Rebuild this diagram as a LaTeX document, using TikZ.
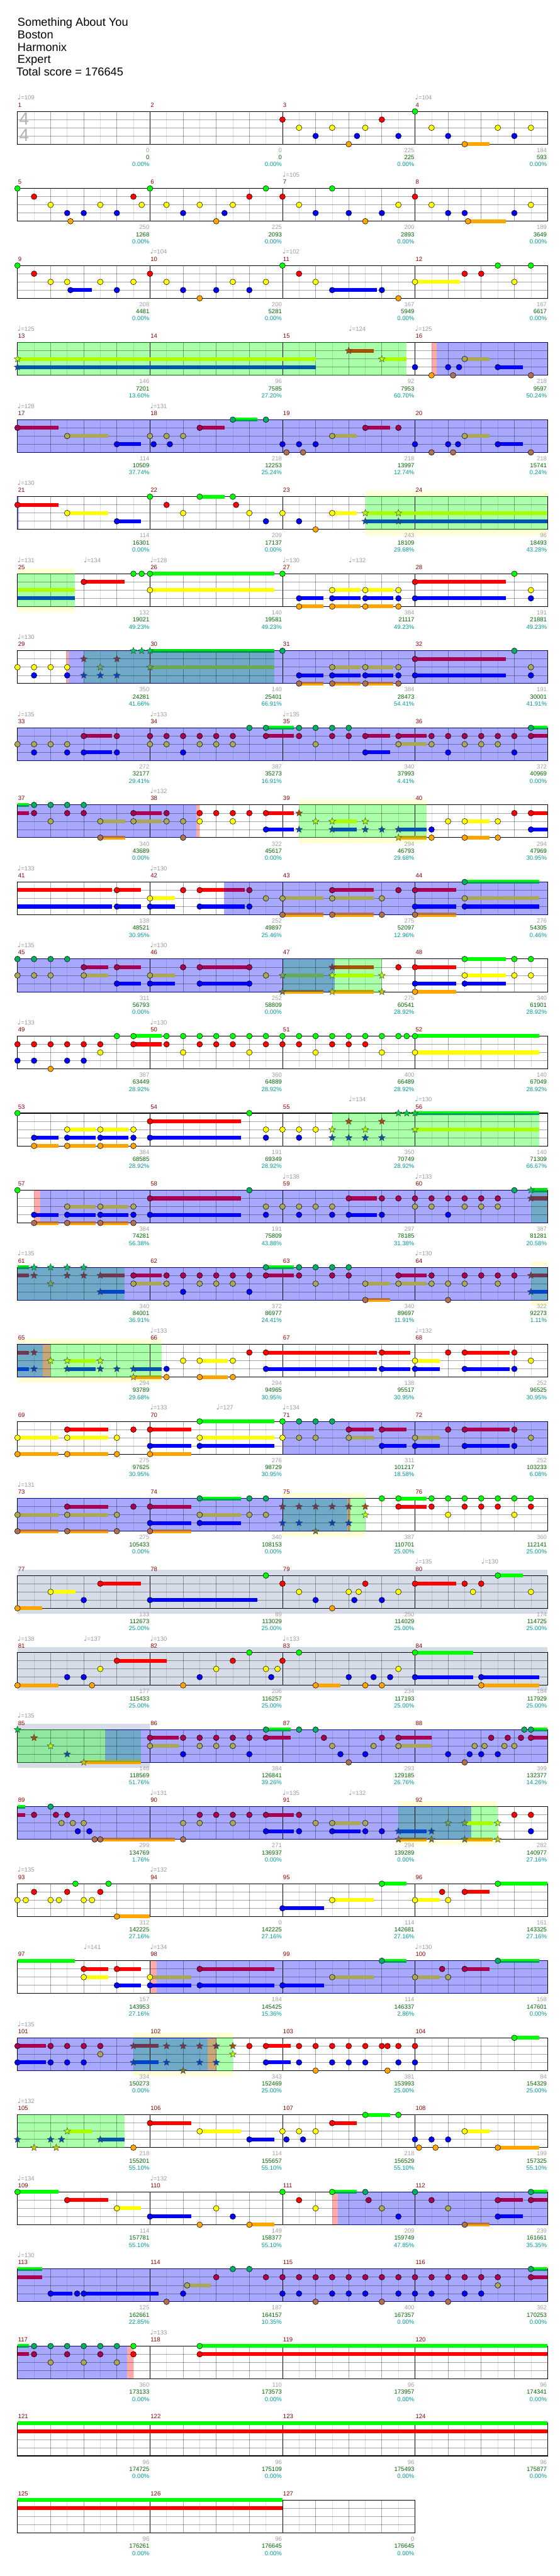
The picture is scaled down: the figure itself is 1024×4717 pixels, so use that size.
\documentclass[tikz,border=0pt]{standalone}
\usepackage{fontspec}
\setmainfont{Liberation Sans}
\newfontfamily\symfont{DejaVu Sans}
\usetikzlibrary{shapes.geometric}

%% gem fills: N normal, O overdrive, S star phrase, B star inside overdrive
\definecolor{cN0}{RGB}{0,255,0}\definecolor{cN1}{RGB}{255,0,0}\definecolor{cN2}{RGB}{255,255,0}
\definecolor{cN3}{RGB}{0,0,255}\definecolor{cN4}{RGB}{255,165,0}
\definecolor{cO0}{RGB}{0,176,96}\definecolor{cO1}{RGB}{168,0,80}\definecolor{cO2}{RGB}{170,168,88}
\definecolor{cO3}{RGB}{0,0,255}\definecolor{cO4}{RGB}{176,112,80}
\definecolor{cS0}{RGB}{0,210,60}\definecolor{cS1}{RGB}{168,80,0}\definecolor{cS2}{RGB}{170,255,0}
\definecolor{cS3}{RGB}{0,85,170}\definecolor{cS4}{RGB}{200,200,0}
\definecolor{cB0}{RGB}{0,200,90}\definecolor{cB1}{RGB}{112,56,80}\definecolor{cB2}{RGB}{106,168,90}
\definecolor{cB3}{RGB}{0,68,200}\definecolor{cB4}{RGB}{120,120,60}
%% sustain bars: t = upper half, b = lower half
\definecolor{tO0}{RGB}{0,255,0}\definecolor{bO0}{RGB}{0,160,96}
\definecolor{tO1}{RGB}{168,0,80}\definecolor{bO1}{RGB}{168,0,80}
\definecolor{tO2}{RGB}{170,168,88}\definecolor{bO2}{RGB}{170,168,88}
\definecolor{tO3}{RGB}{0,0,255}\definecolor{bO3}{RGB}{0,0,255}
\definecolor{tO4}{RGB}{176,112,80}\definecolor{bO4}{RGB}{255,165,0}
\definecolor{tS0}{RGB}{0,255,0}\definecolor{bS0}{RGB}{0,160,96}
\definecolor{tS1}{RGB}{168,80,0}\definecolor{bS1}{RGB}{168,80,0}
\definecolor{tS2}{RGB}{170,255,0}\definecolor{bS2}{RGB}{170,255,0}
\definecolor{tS3}{RGB}{0,85,170}\definecolor{bS3}{RGB}{0,85,170}
\definecolor{tS4}{RGB}{170,170,0}\definecolor{bS4}{RGB}{255,165,0}
\definecolor{tB0}{RGB}{0,230,0}\definecolor{bB0}{RGB}{0,150,100}
\definecolor{tB1}{RGB}{112,56,80}\definecolor{bB1}{RGB}{112,56,80}
\definecolor{tB2}{RGB}{106,168,90}\definecolor{bB2}{RGB}{106,168,90}
\definecolor{tB3}{RGB}{0,68,200}\definecolor{bB3}{RGB}{0,68,200}
\definecolor{tB4}{RGB}{110,110,60}\definecolor{bB4}{RGB}{255,165,0}
%% regions and text
\definecolor{odfill}{RGB}{168,168,255}
\definecolor{spfill}{RGB}{170,255,170}
\definecolor{sp2fill}{RGB}{144,232,160}
\definecolor{bothfill}{RGB}{112,170,200}
\definecolor{tanfill}{RGB}{200,168,120}
\definecolor{pkfill}{RGB}{255,170,170}
\definecolor{ylfill}{RGB}{255,255,214}
\definecolor{gyfill}{RGB}{214,220,232}
\definecolor{odline}{RGB}{0,0,128}
\definecolor{spline}{RGB}{0,100,0}
\definecolor{mnumcol}{RGB}{139,0,0}
\definecolor{sgray}{RGB}{160,160,160}
\definecolor{sgreen}{RGB}{0,100,0}
\definecolor{scyan}{RGB}{0,153,153}
\definecolor{tempocol}{RGB}{153,153,153}

\newcommand\labfont{\fontsize{11}{13}\selectfont}

%% gems:  \gN{lane}{beats}
\newcommand\gN[2]{\foreach \bt in {#2}{\filldraw[gem,fill=cN#1] (\bt,#1) circle[radius=5.2pt];}}
\newcommand\gO[2]{\foreach \bt in {#2}{\filldraw[gem,fill=cO#1] (\bt,#1) circle[radius=5.2pt];}}
\newcommand\gS[2]{\foreach \bt in {#2}{\node[starnote,fill=cS#1] at (\bt,#1) {};}}
\newcommand\gB[2]{\foreach \bt in {#2}{\node[starnote,fill=cB#1] at (\bt,#1) {};}}
%% sustains:  \sN{lane}{from}{to}
\newcommand\sN[3]{\fill[cN#1] (#2,#1-0.233) rectangle (#3,#1+0.233);}
\newcommand\sus[4]{\fill[t#1#2] (#3,#2-0.233) rectangle (#4,#2);
  \fill[b#1#2] (#3,#2) rectangle (#4,#2+0.233);}
\newcommand\sO[3]{\sus{O}{#1}{#2}{#3}}
\newcommand\sS[3]{\sus{S}{#1}{#2}{#3}}
\newcommand\sB[3]{\sus{B}{#1}{#2}{#3}}
%% shaded regions
\newcommand\rg[3]{\fill[#1] (#2,0) rectangle (#3,4);}
\newcommand\bd[3]{\fill[#1] (#2,-0.667) rectangle (#3,4.667);}
\newcommand\rgedge[3]{\draw[#1] (#2,0) -- (#3,0) (#2,4) -- (#3,4);}
\newcommand\tempo[2]{\node[tempo] at (#1,-1.4)
  {{\symfont\fontsize{13}{13}\selectfont\char"2669}=#2};}
%% staff: \staff{measures}{first measure}{gray/green/pct, ...}
\newcommand\staff[3]{%
  \pgfmathtruncatemacro\nbeat{4*#1}%
  \pgfmathsetmacro\lasthalf{\nbeat-0.5}%
  \foreach \e in {0.5,1.5,...,\lasthalf} \draw[grid8] (\e,0) -- (\e,4);
  \foreach \q in {1,...,\nbeat} \draw[gridq] (\q,0) -- (\q,4);
  \foreach \lane in {1,2,3} \draw[gridq] (0,\lane) -- (\nbeat,\lane);
  \foreach \q in {1,...,#1} \draw[barline] (4*\q,0) -- (4*\q,4);
  \draw[frame] (0,0) rectangle (\nbeat,4);
  \foreach \lgr/\lsc/\lpc [count=\i from 0] in {#3}{
    \pgfmathtruncatemacro\mm{#2+\i}
    \node[mnum] (mn\mm) at (4*\i,-0.533) {\mm};
    \node[scg] (sg\mm) at (4*\i+4,5) {\lgr};
    \node[scn] (sn\mm) at (4*\i+4,5.867) {\lsc};
    \node[scp] (sp\mm) at (4*\i+4,6.733) {\lpc};
  }%
}

\begin{document}
\begin{tikzpicture}[x=1pt,y=-1pt,
  every node/.style={inner sep=0pt},
  rowat/.style={shift={(32,{204+141.1*#1})},x=60.625pt,y=-15pt},
  gem/.style={draw=black,line width=0.6pt},
  starnote/.style={shape=star,star points=5,star point ratio=2.3,
    minimum size=13pt,draw=black!75,line width=0.5pt},
  grid8/.style={black,opacity=0.12,line width=0.6pt},
  gridq/.style={black,opacity=0.35,line width=0.9pt},
  barline/.style={black,line width=0.8pt},
  frame/.style={black,line width=1.2pt},
  odreg/.style={odfill}, spreg/.style={spfill}, spreg2/.style={sp2fill},
  bothreg/.style={bothfill}, tanreg/.style={tanfill}, pkreg/.style={pkfill},
  ylband/.style={ylfill}, gyband/.style={gyfill},
  odedge/.style={odline,line width=1.2pt}, spedge/.style={spline,line width=1.2pt},
  title/.style={anchor=base west,font=\fontsize{21}{25}\selectfont},
  mnum/.style={anchor=base west,xshift=1pt,text=mnumcol,font=\labfont},
  scg/.style={anchor=base east,xshift=-1pt,text=sgray,font=\labfont},
  scn/.style={anchor=base east,xshift=-1pt,text=sgreen,font=\labfont},
  scp/.style={anchor=base east,xshift=-1pt,text=scyan,font=\labfont},
  tempo/.style={anchor=base west,text=tempocol,font=\labfont},
  tsig/.style={text=black!30,font=\fontsize{32}{32}\selectfont},
]
\fill[white] (0,0) rectangle (1024,4717);
\useasboundingbox (0,0) rectangle (1024,4717);

%% song header
\node[title] (song)   at (32,48)  {Something About You};
\node[title] (artist) at (32,71)  {Boston};
\node[title] (author) at (32,94)  {Harmonix};
\node[title] (level)  at (32,116) {Expert};
\node[title] (total)  at (30,139) {Total score = 176645};

%%── measures 1-4 ─────────────────────────────────────────────
\begin{scope}[rowat=0]
\tempo{0}{109}\tempo{12}{104}
\staff{4}{1}{0/0/0.00\%,0/0/0.00\%,225/225/0.00\%,184/593/0.00\%}
\node[tsig] (tsa) at (0.2,0.9) {4};
\node[tsig] (tsb) at (0.2,2.9) {4};
\sN{4}{13.5}{14.25}
\gN{0}{12}\gN{1}{8,11}\gN{2}{8.5,9.5,10.5,12.5,14.5,15.5}
\gN{3}{9,10.25,11.5,13,15}\gN{4}{10,13.5}
\end{scope}

%%── measures 5-8 ─────────────────────────────────────────────
\begin{scope}[rowat=1]
\tempo{8}{105}
\staff{4}{5}{250/1268/0.00\%,225/2093/0.00\%,200/2893/0.00\%,189/3649/0.00\%}
\sN{4}{13.6}{14.75}
\gN{0}{0,4,7.5,9.5}\gN{1}{0.5,3.5,7,8,12}
\gN{2}{1,2.5,3.75,4.5,5.5,6.5,8.5,11.5,12.5,15.5}
\gN{3}{1.5,2,3,5,6.25,9,10,11,13,13.5,15}\gN{4}{1.6,6,10.5,13.6}
\end{scope}

%%── measures 9-12 ────────────────────────────────────────────
\begin{scope}[rowat=2]
\tempo{4}{104}\tempo{8}{102}
\staff{4}{9}{208/4481/0.00\%,200/5281/0.00\%,167/5949/0.00\%,167/6617/0.00\%}
\sN{3}{1.6}{2.25}\sN{3}{9.5}{10.85}\sN{2}{12}{13.35}
\gN{0}{0,8,14.5,15.5}\gN{1}{0.5,4,8.5,13.5,14}
\gN{2}{1,1.5,2.5,3.5,4.5,6.5,7.5,9,12,15}
\gN{3}{1.6,3,5,6,7,9.5,11}\gN{4}{5.5,11.5}
\end{scope}

%%── measures 13-16 ───────────────────────────────────────────
\begin{scope}[rowat=3]
\tempo{0}{125}\tempo{10}{124}\tempo{12}{125}
\rg{spreg}{0}{11.74}\rg{pkreg}{12.5}{12.65}\rg{odreg}{12.65}{16}
\staff{4}{13}{146/7201/13.60\%,96/7585/27.20\%,92/7953/60.70\%,218/9597/50.24\%}
\rgedge{spedge}{0}{11.74}\rgedge{odedge}{12.65}{16}
\sS{2}{0}{9}\sS{3}{0}{9}\sS{1}{10}{10.75}\sS{2}{11}{11.74}
\sO{2}{13.5}{14.25}\sO{3}{14.5}{15.25}
\gS{2}{0,11}\gS{3}{0}\gS{1}{10}
\gN{3}{12}\gN{4}{12.5}
\gO{2}{13.5}\gO{3}{13,13.33,14.5}\gO{4}{13.15,15.5}
\end{scope}

%%── measures 17-20 ───────────────────────────────────────────
\begin{scope}[rowat=4]
\tempo{0}{128}\tempo{4}{131}
\rg{odreg}{0}{16}
\staff{4}{17}{114/10509/37.74\%,218/12253/25.24\%,218/13997/12.74\%,218/15741/0.24\%}
\rgedge{odedge}{0}{16}
\sO{1}{0}{1.23}\sO{2}{1.5}{2.73}\sO{3}{3}{3.73}\sO{1}{5.5}{6.25}\sO{0}{6.5}{7.25}
\sO{2}{9.5}{10.24}\sO{1}{10.5}{11.25}\sO{2}{13.5}{14.25}\sO{3}{14.5}{15.25}
\gO{0}{6.5,7.5}\gO{1}{0,5.5,10.5,11.5}\gO{2}{1.5,4,4.5,5,9.5,13.5}
\gO{3}{3,4.11,4.6,8,8.5,9,12,13,13.3,14.5}\gO{4}{8.12,8.62,12.5,13.15,15.5}
\end{scope}

%%── measures 21-24 ───────────────────────────────────────────
\begin{scope}[rowat=5]
\tempo{0}{130}
\bd{ylband}{10.5}{16}
\rg{odreg}{0}{0.05}\rg{spreg}{10.5}{16}
\staff{4}{21}{114/16301/0.00\%,209/17137/0.00\%,243/18109/29.68\%,96/18493/43.28\%}
\rgedge{spedge}{10.5}{16}
\sN{1}{0}{1.23}\sN{2}{1.5}{2.73}\sN{3}{3}{3.73}\sN{0}{5.5}{6.25}\sN{2}{9.5}{10.24}
\sS{2}{10.5}{16}\sS{3}{10.5}{16}
\gN{0}{4,5.5,6.5}\gN{1}{0,4.5,6.6}\gN{2}{1.5,5,7,8,9.5}\gN{3}{3,7.5,8.5}\gN{4}{9}
\gS{2}{10.5,11.5}\gS{3}{10.5,11.5}
\end{scope}

%%── measures 25-28 ───────────────────────────────────────────
\begin{scope}[rowat=6]
\tempo{0}{131}\tempo{2}{134}\tempo{4}{128}\tempo{8}{130}\tempo{10}{132}
\bd{ylband}{0}{1.74}
\rg{spreg}{0}{1.74}
\staff{4}{25}{132/19021/49.23\%,140/19581/49.23\%,384/21117/49.23\%,191/21881/49.23\%}
\rgedge{spedge}{0}{1.74}
\sS{2}{0}{1.74}\sS{3}{0}{1.74}
\sN{1}{2}{3.23}\sN{0}{4}{7.75}\sN{2}{4}{7.75}
\sN{3}{8.5}{9.24}\sN{4}{8.5}{9.24}\sN{2}{9.5}{10.35}\sN{3}{9.5}{10.35}\sN{4}{9.5}{10.35}
\sN{2}{10.5}{11.35}\sN{3}{10.5}{11.35}\sN{4}{10.5}{11.35}\sN{1}{12}{14.75}\sN{3}{12}{14.75}
\gN{0}{3.5,3.75,4,8,15}\gN{1}{2,12}\gN{2}{4,9.5,10.5,11.5,15.5}
\gN{3}{8.5,9.5,10.5,11.5,12,15.5}\gN{4}{8.5,9.5,10.5,11.5}
\end{scope}

%%── measures 29-32 ───────────────────────────────────────────
\begin{scope}[rowat=7]
\tempo{0}{130}
\rg{pkreg}{1.47}{1.55}\rg{odreg}{1.55}{16}\rg{bothreg}{2}{7.75}
\staff{4}{29}{350/24281/41.66\%,140/25401/66.91\%,384/28473/54.41\%,191/30001/41.91\%}
\rgedge{odedge}{1.55}{16}
\sB{0}{4}{7.75}\sB{2}{4}{7.75}
\sO{3}{8.5}{9.24}\sO{4}{8.5}{9.24}\sO{2}{9.5}{10.35}\sO{3}{9.5}{10.35}\sO{4}{9.5}{10.35}
\sO{2}{10.5}{11.35}\sO{3}{10.5}{11.35}\sO{4}{10.5}{11.35}\sO{1}{12}{14.75}\sO{3}{12}{14.75}
\gN{2}{0,0.5,1,1.5}\gN{3}{0.5}\gO{3}{1.5}
\gB{1}{2,3}\gB{2}{2.5,4}\gB{3}{2,2.5,3}\gB{0}{3.5,3.75,4}
\gO{0}{8,15}\gO{1}{12}\gO{2}{9.5,10.5,11.5,15.5}
\gO{3}{8.5,9.5,10.5,11.5,12,15.5}\gO{4}{8.5,9.5,10.5,11.5}
\end{scope}

%%── measures 33-36 ───────────────────────────────────────────
\begin{scope}[rowat=8]
\tempo{0}{135}\tempo{4}{133}\tempo{8}{135}
\rg{odreg}{0}{16}
\staff{4}{33}{272/32177/29.41\%,387/35273/16.91\%,340/37993/4.41\%,372/40969/0.00\%}
\rgedge{odedge}{0}{16}
\sO{1}{2}{2.86}\sO{3}{2}{2.86}\sO{0}{7.5}{8.35}\sO{1}{7.5}{8.35}\sO{1}{10.5}{11.25}
\sO{3}{10.5}{11.25}\sO{1}{11.5}{12.35}\sO{2}{11.5}{12.35}\sO{0}{15.5}{16}\sO{1}{15.5}{16}
\gO{0}{7,7.5,8.5,9,9.5,10,15.5}
\gO{1}{2,3,4,4.5,5,5.5,6,6.5,7.5,8.5,9.5,10,10.5,11.5,12.5,13,13.5,14,14.5,15,15.5}
\gO{2}{0,0.5,1,1.5,4,4.5,5.5,6,6.5,9,11.5,12.5,13.5,14,14.5}
\gO{3}{0.5,1.5,2,3,5,10.5,13,15}
\end{scope}

%%── measures 37-40 ───────────────────────────────────────────
\begin{scope}[rowat=9]
\tempo{4}{132}
\bd{ylband}{8.5}{12.35}
\rg{odreg}{0}{5.39}\rg{pkreg}{5.39}{5.5}\rg{spreg}{8.5}{12.35}
\staff{4}{37}{340/43689/0.00\%,322/45617/0.00\%,294/46793/29.68\%,294/47969/30.95\%}
\rgedge{odedge}{0}{5.39}\rgedge{spedge}{8.5}{12.35}
\sO{0}{0}{0.35}\sO{1}{0}{0.35}\sO{2}{2.5}{3.25}\sO{4}{2.5}{3.25}\sO{1}{3.5}{4.35}\sO{2}{3.5}{4.35}
\sN{1}{7.5}{8.35}\sN{3}{7.5}{8.35}
\sS{2}{9.5}{10.24}\sS{3}{9.5}{10.24}\sS{3}{11.5}{12.35}\sS{4}{11.5}{12.35}
\sN{2}{13.5}{14.25}\sN{4}{13.5}{14.25}\sN{1}{15.5}{16}\sN{3}{15.5}{16}
\gO{0}{0.5,1,1.5,2}\gO{1}{0.5,1.5,2,3.5,4.5}\gO{2}{1,2.5,3.5,4.5,5}\gO{4}{2.5,5}
\gN{1}{5.5,6,6.5,7,7.5,15,15.5}\gN{2}{5.5,6.5,13,13.5,14.5}
\gN{3}{7.5,12.5,15.5}\gN{4}{12.5,13.5,14.5}
\gS{1}{8.5}\gS{2}{9,9.5,10.5}\gS{3}{8.5,9.5,10.5,11,11.5}\gS{4}{11.5}
\end{scope}

%%── measures 41-44 ───────────────────────────────────────────
\begin{scope}[rowat=10]
\tempo{0}{133}\tempo{4}{130}
\rg{odreg}{6.23}{16}
\staff{4}{41}{138/48521/30.95\%,252/49897/25.46\%,275/52097/12.96\%,276/54305/0.46\%}
\rgedge{odedge}{6.23}{16}
\sN{1}{0}{2.86}\sN{3}{0}{2.86}\sN{1}{3}{3.73}\sN{3}{3}{3.73}\sN{2}{4}{4.75}\sN{3}{4}{4.75}
\sN{1}{5.5}{6.23}\sO{1}{6.23}{6.86}\sN{3}{5.5}{6.86}
\sO{2}{8}{9.24}\sO{4}{8}{9.24}\sO{1}{9.5}{10.75}\sO{2}{9.5}{10.75}\sO{4}{9.5}{10.75}
\sO{1}{12}{13.24}\sO{3}{12}{13.24}\sO{4}{12}{13.24}
\sO{0}{13.5}{15.75}\sO{2}{13.5}{15.75}\sO{3}{13.5}{15.75}
\gN{1}{3,5,5.5}\gN{2}{4}\gN{3}{3,4,5.5}
\gO{0}{13.5}\gO{1}{7,9.5,11.5,12}\gO{2}{7.5,8,9.5,11,13.5}\gO{3}{7,12,13.5}\gO{4}{8,9.5,11,12}
\end{scope}

%%── measures 45-48 ───────────────────────────────────────────
\begin{scope}[rowat=11]
\tempo{0}{135}\tempo{4}{130}
\rg{odreg}{0}{8}\rg{bothreg}{8}{9.57}\rg{spreg}{9.57}{11}
\staff{4}{45}{311/56793/0.00\%,252/58809/0.00\%,275/60541/28.92\%,340/61901/28.92\%}
\rgedge{odedge}{0}{9.57}\rgedge{spedge}{9.57}{11}
\sO{1}{2}{2.73}\sO{2}{2}{2.73}\sO{1}{3}{3.73}\sO{3}{3}{3.73}\sO{2}{4}{4.75}\sO{3}{4}{4.75}
\sO{1}{5.5}{7}\sO{3}{5.5}{7}
\sB{2}{8}{9.24}\sB{4}{8}{9.24}\sS{1}{9.5}{10.75}\sS{2}{9.5}{10.75}\sS{4}{9.5}{10.75}
\sN{1}{12}{13.24}\sN{3}{12}{13.24}\sN{4}{12}{13.24}
\sN{0}{13.5}{14.75}\sN{2}{13.5}{14.75}\sN{3}{13.5}{14.75}
\gO{0}{0,0.5,1,1.5}\gO{1}{2,3,5,5.5,7}\gO{2}{0,0.5,1,2,4,7.5}\gO{3}{3,4,5.5,7}
\gB{2}{8}\gB{4}{8}\gB{1}{9.5}\gS{2}{9.5,11}\gS{4}{9.5,11}
\gN{0}{13.5,15,15.5}\gN{1}{11.5,12}\gN{2}{13.5,15,15.5}\gN{3}{12,13.5}\gN{4}{12}
\end{scope}

%%── measures 49-52 ───────────────────────────────────────────
\begin{scope}[rowat=12]
\tempo{0}{133}\tempo{4}{130}
\staff{4}{49}{387/63449/28.92\%,360/64889/28.92\%,400/66489/28.92\%,140/67049/28.92\%}
\sN{0}{3.5}{4.35}\sN{1}{3.5}{4.35}\sN{0}{12}{15.75}\sN{2}{12}{15.75}
\gN{0}{3,3.5,4.5,5,5.5,6,6.5,7,7.5,8,8.5,9,9.5,10,10.5,11,11.5,11.75,12}
\gN{1}{0,0.5,1,1.5,2,2.5,3.5,4.5,5.5,6,6.5,7.5,8,8.5,9.5,10,10.5}
\gN{2}{2.5,5,7,9,11,12}\gN{3}{0,0.5,1.5,2}\gN{4}{1}
\end{scope}

%%── measures 53-56 ───────────────────────────────────────────
\begin{scope}[rowat=13]
\tempo{10}{134}\tempo{12}{130}
\rg{spreg}{9.5}{15.75}
\staff{4}{53}{384/68585/28.92\%,191/69349/28.92\%,350/70749/28.92\%,140/71309/66.67\%}
\rgedge{spedge}{9.5}{15.75}
\sN{3}{0.5}{1.23}\sN{4}{0.5}{1.23}\sN{2}{1.5}{2.35}\sN{3}{1.5}{2.35}\sN{4}{1.5}{2.35}
\sN{2}{2.5}{3.35}\sN{3}{2.5}{3.35}\sN{4}{2.5}{3.35}\sN{1}{4}{6.75}\sN{3}{4}{6.75}
\sS{0}{12}{15.75}\sS{2}{12}{15.75}
\gN{0}{0,7}\gN{1}{4}\gN{2}{1.5,2.5,3.5,7.5,8,8.5,9}\gN{3}{0.5,1.5,2.5,3.5,4,7.5,8.5}
\gN{4}{0.5,1.5,2.5,3.5}
\gS{0}{11.5,11.75,12}\gS{1}{10,11}\gS{2}{9.5,10.5,12}\gS{3}{9.5,10,10.5,11}
\end{scope}

%%── measures 57-60 ───────────────────────────────────────────
\begin{scope}[rowat=14]
\tempo{8}{138}\tempo{12}{133}
\rg{pkreg}{0.5}{0.68}\rg{odreg}{0.68}{15.5}\rg{bothreg}{15.5}{16}
\staff{4}{57}{384/74281/56.38\%,191/75809/43.88\%,297/78185/31.38\%,387/81281/20.58\%}
\rgedge{odedge}{0.68}{16}
\sO{3}{0.5}{1.23}\sO{4}{0.5}{1.23}\sO{2}{1.5}{2.35}\sO{3}{1.5}{2.35}\sO{4}{1.5}{2.35}
\sO{2}{2.5}{3.35}\sO{3}{2.5}{3.35}\sO{4}{2.5}{3.35}\sO{1}{4}{6.75}\sO{3}{4}{6.75}
\sO{1}{10}{10.85}\sO{3}{10}{10.85}\sB{0}{15.5}{16}\sB{1}{15.5}{16}
\gN{0}{0}
\gO{0}{7,15}\gO{1}{4,10,11,11.5,12,12.5,13,13.5,14,14.5}
\gO{2}{1.5,2.5,3.5,7.5,8,8.5,9,9.5,12,12.5,13.5,14,14.5}
\gO{3}{0.5,1.5,2.5,3.5,4,7.5,8.5,9.5,10,11,13}\gO{4}{0.5,1.5,2.5,3.5}
\gB{0}{15.5}\gB{1}{15.5}
\end{scope}

%%── measures 61-64 ───────────────────────────────────────────
\begin{scope}[rowat=15]
\tempo{0}{135}\tempo{12}{130}
\bd{ylband}{15.5}{16}
\rg{bothreg}{0}{3.23}\rg{odreg}{3.23}{15.5}\rg{bothreg}{15.5}{16}
\staff{4}{61}{340/84001/36.91\%,372/86977/24.41\%,340/89697/11.91\%,322/92273/1.11\%}
\rgedge{odedge}{0}{16}
\sB{0}{0}{0.35}\sB{1}{0}{0.35}\sB{1}{2.5}{3.23}\sB{3}{2.5}{3.23}
\sO{1}{3.5}{4.35}\sO{2}{3.5}{4.35}\sO{0}{7.5}{8.35}\sO{1}{7.5}{8.35}
\sO{2}{10.5}{11.25}\sO{4}{10.5}{11.25}\sO{1}{11.5}{12.35}\sO{2}{11.5}{12.35}
\sB{1}{15.5}{16}\sB{3}{15.5}{16}
\gB{0}{0.5,1,1.5,2}\gB{1}{0.5,1.5,2,2.5}\gB{2}{1}\gB{3}{2.5}
\gO{0}{7.5,8.5,9,9.5,10}
\gO{1}{3.5,4.5,5,5.5,6,6.5,7,7.5,8.5,9.5,10,11.5,12.5,13.5,14,14.5,15}
\gO{2}{3.5,4.5,5.5,6,6.5,9,10.5,11.5,12.5,13,13.5,14.5}\gO{3}{5,7}\gO{4}{10.5,13}
\gB{1}{15.5}\gB{3}{15.5}
\end{scope}

%%── measures 65-68 ───────────────────────────────────────────
\begin{scope}[rowat=16]
\tempo{4}{133}\tempo{12}{132}
\bd{ylband}{0}{4.36}
\rg{bothreg}{0}{0.76}\rg{tanreg}{0.76}{1}\rg{spreg}{1}{4.36}
\staff{4}{65}{294/93789/29.68\%,294/94965/30.95\%,138/95517/30.95\%,252/96525/30.95\%}
\rgedge{odedge}{0}{1}\rgedge{spedge}{1}{4.36}
\sB{1}{0}{0.35}\sB{3}{0}{0.35}\sS{2}{1.5}{2.35}\sS{3}{1.5}{2.35}\sS{3}{3.5}{4.36}\sS{4}{3.5}{4.36}
\sN{2}{5.5}{6.35}\sN{4}{5.5}{6.35}\sN{1}{7.5}{10.85}\sN{3}{7.5}{10.85}\sN{1}{11}{11.85}
\sN{3}{11}{11.85}\sN{2}{12}{12.75}\sN{3}{12}{12.75}\sN{1}{13.5}{14.85}\sN{3}{13.5}{14.85}
\gB{1}{0.5}\gB{3}{0.5}\gS{2}{1,1.5,2.5}\gS{3}{1.5,2.5,3,3.5}\gS{4}{3.5}
\gN{1}{7,7.5,11,13,13.5,15}\gN{2}{5,5.5,6.5,12,15.5}\gN{3}{4.5,7.5,11,12,13.5,15}
\gN{4}{4.5,5.5,6.5}
\end{scope}

%%── measures 69-72 ───────────────────────────────────────────
\begin{scope}[rowat=17]
\tempo{4}{133}\tempo{6}{127}\tempo{8}{134}
\rg{odreg}{8}{16}
\staff{4}{69}{275/97625/30.95\%,276/98729/30.95\%,311/101217/18.58\%,252/103233/6.08\%}
\rgedge{odedge}{8}{16}
\sN{2}{0}{1.23}\sN{4}{0}{1.23}\sN{1}{1.5}{2.73}\sN{2}{1.5}{2.73}\sN{4}{1.5}{2.73}
\sN{1}{4}{5.25}\sN{3}{4}{5.25}\sN{4}{4}{5.25}\sN{0}{5.5}{7.75}\sN{2}{5.5}{7.75}\sN{3}{5.5}{7.75}
\sO{1}{10}{10.75}\sO{2}{10}{10.75}\sO{1}{11}{11.75}\sO{3}{11}{11.75}\sO{2}{12}{12.75}
\sO{3}{12}{12.75}\sO{1}{13.5}{14.85}\sO{3}{13.5}{14.85}
\gN{0}{5.5,8}\gN{1}{1.5,3.5,4}\gN{2}{0,1.5,3,5.5,8}\gN{3}{4,5.5}\gN{4}{0,1.5,3,4}
\gO{0}{8.5,9,9.5}\gO{1}{10,11,13,13.5,15}\gO{2}{8.5,9,10,12,15.5}\gO{3}{11,12,13.5,15}
\end{scope}

%%── measures 73-76 ───────────────────────────────────────────
\begin{scope}[rowat=18]
\tempo{0}{131}
\bd{ylband}{8}{10.5}
\rg{odreg}{0}{8}\rg{bothreg}{8}{9.96}\rg{tanreg}{9.96}{10.05}\rg{spreg}{10.05}{10.5}
\staff{4}{73}{275/105433/0.00\%,340/108153/0.00\%,387/110701/25.00\%,360/112141/25.00\%}
\rgedge{odedge}{0}{10.05}\rgedge{spedge}{10.05}{10.5}
\sO{2}{0}{1.23}\sO{4}{0}{1.23}\sO{1}{1.5}{2.73}\sO{2}{1.5}{2.73}\sO{4}{1.5}{2.73}
\sO{1}{4}{5.25}\sO{3}{4}{5.25}\sO{4}{4}{5.25}\sO{0}{5.5}{6.75}\sO{2}{5.5}{6.75}\sO{3}{5.5}{6.75}
\sN{0}{11.5}{12.35}\sN{1}{11.5}{12.35}
\gO{0}{5.5,7,7.5}\gO{1}{1.5,3.5,4}\gO{2}{0,1.5,3,5.5,7,7.5}\gO{3}{4,5.5}\gO{4}{0,1.5,3,4}
\gB{1}{8,8.5,9,9.5,10}\gB{3}{8,8.5,9.5,10}\gB{4}{9}\gS{1}{10.5}\gS{2}{10.5}
\gN{0}{11,11.5,12.5,13,13.5,14,14.5,15,15.5}\gN{1}{11.5,12.5,13.5,14,14.5,15.5}\gN{2}{13,15}
\end{scope}

%%── measures 77-80 ───────────────────────────────────────────
\begin{scope}[rowat=19]
\tempo{12}{135}\tempo{14}{130}
\bd{gyband}{0}{16}
\staff{4}{77}{133/112673/25.00\%,89/113029/25.00\%,250/114029/25.00\%,174/114725/25.00\%}
\sN{4}{0}{0.75}\sN{2}{1}{1.75}\sN{1}{2.5}{3.73}\sN{3}{4}{7.25}\sN{1}{12}{13.24}\sN{0}{14.5}{15.25}
\gN{0}{7.5,14.5}\gN{1}{2.5,8,10.5,12,13.5,14}\gN{2}{1,8.5,10,10.3,11.5,13.75,15.5}
\gN{3}{2,4,9,10.17,11}\gN{4}{0,9.5}
\end{scope}

%%── measures 81-84 ───────────────────────────────────────────
\begin{scope}[rowat=20]
\tempo{0}{138}\tempo{2}{137}\tempo{4}{130}\tempo{8}{133}
\bd{gyband}{0}{16}
\staff{4}{81}{177/115433/25.00\%,206/116257/25.00\%,234/117193/25.00\%,184/117929/25.00\%}
\sN{4}{0}{1.23}\sN{1}{3}{4.5}\sN{4}{9}{9.75}\sN{0}{12}{13.75}\sN{3}{12}{13.75}
\sN{3}{14}{15.75}\sN{4}{14}{15.75}
\gN{0}{7,8.5,12}\gN{1}{3,6.5,8}\gN{2}{2.5,6,7.5,7.85,11.5}
\gN{3}{1.5,2,5.5,7.66,10,10.75,11.25,12,14}\gN{4}{0,2.25,5,9,10.5,11,14}
\end{scope}

%%── measures 85-88 ───────────────────────────────────────────
\begin{scope}[rowat=21]
\tempo{0}{135}
\bd{gyband}{0}{4}
\rg{spreg2}{0}{2.65}\rg{bothreg}{2.65}{3.73}\rg{odreg}{3.73}{16}
\staff{4}{85}{146/118569/51.76\%,384/126841/39.26\%,293/129185/26.76\%,399/132377/14.26\%}
\rgedge{spedge}{0}{2.65}\rgedge{odedge}{2.65}{16}
\sS{4}{2}{3.73}
\sO{1}{4}{4.87}\sO{2}{4}{4.87}\sO{0}{7.5}{8.25}\sO{1}{7.5}{8.25}\sO{1}{11.5}{12.5}
\sO{2}{11.5}{12.5}\sO{0}{15.5}{16}\sO{1}{15.5}{16}
\gS{0}{0}\gS{1}{0.5}\gS{2}{1}\gS{3}{1.5}\gS{4}{2}
\gO{0}{7.5,8.5,9,15.3,15.5}
\gO{1}{4,5,5.5,6,6.5,7,7.5,9.25,11,11.5,14.3,14.8,15.2,15.5}
\gO{2}{4,5.5,6,6.5,9.5,10.75,11.5,13.8,14.1,14.7,15}
\gO{3}{5,7,9.75,10.5,13,13.65,14,14.5}\gO{4}{10,13.5}
\end{scope}

%%── measures 89-92 ───────────────────────────────────────────
\begin{scope}[rowat=22]
\tempo{4}{131}\tempo{8}{135}\tempo{10}{132}
\bd{ylband}{11.5}{14.5}
\rg{odreg}{0}{11.5}\rg{bothreg}{11.5}{13.7}\rg{spreg}{13.7}{14.5}
\staff{4}{89}{299/134769/1.76\%,271/136937/0.00\%,294/139289/0.00\%,282/140977/27.16\%}
\rgedge{odedge}{0}{13.7}\rgedge{spedge}{13.7}{14.5}
\sO{0}{0}{0.24}\sO{1}{0}{0.24}\sO{4}{2.5}{4.75}\sO{1}{7.5}{8.35}\sO{3}{7.5}{8.35}
\sO{2}{9.5}{10.35}\sO{3}{9.5}{10.35}
\sB{3}{11.5}{12.35}\sB{4}{11.5}{12.35}\sS{2}{13.5}{14.35}\sS{4}{13.5}{14.35}
\gO{0}{1}\gO{1}{0.5,1.16,1.5,5.5,6,6.5,7,7.5,8.5}\gO{2}{1.33,1.67,2,5,5.5,6.5,9,9.5,10.5}
\gO{3}{1.82,2.17,7.5,8.5,9.5,10.5,11}\gO{4}{2.33,2.5,5}
\gB{3}{11.5,12.5}\gB{4}{11.5,12.5}\gB{2}{13,13.5}\gB{4}{13.5}\gS{2}{14.5}\gS{4}{14.5}
\gN{1}{15,15.5}\gN{3}{15.5}
\end{scope}

%%── measures 93-96 ───────────────────────────────────────────
\begin{scope}[rowat=23]
\tempo{0}{135}\tempo{4}{132}
\staff{4}{93}{312/142225/27.16\%,0/142225/27.16\%,114/142681/27.16\%,161/143325/27.16\%}
\sN{4}{3}{4}\sN{3}{8}{9.25}\sN{2}{9.5}{10.75}\sN{0}{11}{11.75}\sN{2}{12}{12.75}
\sN{1}{13.5}{14.25}\sN{0}{14.5}{16}
\gN{0}{1.75,2.75,11,14.5}\gN{1}{0.5,1.5,2.5,12.82,13.5}
\gN{2}{0,0.25,1,1.25,2,2.25,9.5,12,13}\gN{3}{8}\gN{4}{3}
\end{scope}

%%── measures 97-100 ──────────────────────────────────────────
\begin{scope}[rowat=24]
\tempo{2}{141}\tempo{4}{134}\tempo{12}{130}
\rg{pkreg}{4}{4.2}\rg{odreg}{4.2}{16}
\staff{4}{97}{157/143953/27.16\%,184/145425/15.36\%,114/146337/2.86\%,158/147601/0.00\%}
\rgedge{odedge}{4.2}{16}
\sN{0}{0}{1.74}\sN{1}{2}{2.73}\sN{2}{2}{2.73}\sN{1}{3}{3.73}\sN{3}{3}{3.73}
\sO{2}{4}{5.25}\sO{3}{4}{5.25}\sO{1}{5.5}{7.75}\sO{3}{5.5}{7.75}\sO{3}{8}{9.25}
\sO{2}{9.5}{10.75}\sO{0}{11}{11.75}\sO{2}{12}{12.75}\sO{1}{13.5}{14.25}\sO{0}{14.5}{15.75}
\gN{1}{2,3}\gN{2}{2,4}\gN{3}{3,4}
\gO{0}{11,14.5}\gO{1}{5.5,12.82,13.5}\gO{2}{9.5,12,13}\gO{3}{5.5,8}
\end{scope}

%%── measures 101-104 ─────────────────────────────────────────
\begin{scope}[rowat=25]
\tempo{0}{135}
\bd{ylband}{3.5}{6.5}
\rg{odreg}{0}{3.5}\rg{bothreg}{3.5}{5.75}\rg{tanreg}{5.75}{6}\rg{spreg}{6}{6.5}
\staff{4}{101}{334/150273/0.00\%,343/152469/25.00\%,381/153993/25.00\%,84/154329/25.00\%}
\rgedge{odedge}{0}{6}\rgedge{spedge}{6}{6.5}
\sO{1}{0}{0.86}\sO{3}{0}{0.86}\sB{1}{3.5}{4.25}\sB{3}{3.5}{4.25}
\sN{1}{7.5}{8.25}\sN{3}{7.5}{8.25}\sN{0}{15}{15.75}
\gO{1}{0,1,1.5,2,2.5}\gO{2}{2.5}\gO{3}{0,1,1.5,2}
\gB{1}{3.5,4.5,5,5.5,6}\gB{3}{3.5,4.5,5.5,6}\gB{4}{5}\gS{1}{6.5}\gS{2}{6.5}
\gN{0}{15}\gN{1}{7,7.5,8.5,9,9.5,10,10.5,11,11.17,11.5,12}
\gN{3}{7.5,8.5,9.5,10,10.5,11.5,12}\gN{4}{9,11.17}
\end{scope}

%%── measures 105-108 ─────────────────────────────────────────
\begin{scope}[rowat=26]
\tempo{0}{132}
\rg{spreg}{0}{3.23}
\staff{4}{105}{218/155201/55.10\%,114/155657/55.10\%,218/156529/55.10\%,199/157325/55.10\%}
\rgedge{spedge}{0}{3.23}
\sS{2}{1.5}{2.25}\sS{3}{2.5}{3.23}
\sN{1}{4}{5.25}\sN{2}{5.5}{6.75}\sN{3}{7}{7.75}\sN{1}{9.5}{10.25}\sN{0}{10.5}{11.25}
\sN{2}{13.5}{14.25}\sN{4}{14.5}{15.75}
\gS{2}{1.5}\gS{3}{0,1,1.33,2.5}\gS{4}{0.5,1.17}
\gN{0}{10.5,11.5}\gN{1}{4,9.5}\gN{2}{5.5,8,8.5,9,13.5}\gN{3}{7,8.12,8.62,12,12.5,13}
\gN{4}{3.5,12.12,12.62,14.5}
\end{scope}

%%── measures 109-112 ─────────────────────────────────────────
\begin{scope}[rowat=27]
\tempo{0}{134}\tempo{4}{132}
\rg{pkreg}{9.5}{9.67}\rg{odreg}{9.67}{16}
\staff{4}{109}{114/157781/55.10\%,149/158377/55.10\%,209/159749/47.85\%,239/161661/35.35\%}
\rgedge{odedge}{9.67}{16}
\sN{0}{0}{1.23}\sN{1}{1.5}{2.73}\sN{2}{3}{3.73}\sN{3}{4}{5.25}\sN{4}{7}{7.75}
\sO{0}{9.5}{10.25}\sO{4}{13.5}{14.25}\sO{1}{14.5}{15.25}\sO{3}{14.5}{15.25}
\sO{0}{15.5}{16}\sO{1}{15.5}{16}
\gN{0}{0,8,9.5}\gN{1}{1.5,8.5}\gN{2}{3,6,9}\gN{3}{4,6.5}\gN{4}{5.5,7}
\gO{0}{10.5,12,15.5}\gO{1}{10.6,12.5,14.5,15.5}\gO{2}{11,13}\gO{3}{11.5,14.5}\gO{4}{13.5}
\end{scope}

%%── measures 113-116 ─────────────────────────────────────────
\begin{scope}[rowat=28]
\tempo{0}{130}
\rg{odreg}{0}{16}
\staff{4}{113}{125/162661/22.85\%,187/164157/10.35\%,400/167357/0.00\%,362/170253/0.00\%}
\rgedge{odedge}{0}{16}
\sO{0}{0}{0.74}\sO{1}{0}{0.74}\sO{3}{1}{1.65}\sO{3}{2}{4.25}\sO{2}{5.12}{5.83}
\sO{0}{15.5}{16}\sO{1}{15.5}{16}
\gO{0}{6.5,7,15.5}
\gO{1}{6,7.5,8,8.5,9,9.5,10,10.5,11,11.5,12,12.5,13,13.5,14,14.5,15.5}
\gO{2}{5.12,14.5}\gO{3}{1,1.8,2,5,8,8.5,9.5,10,10.5,11.5,12,12.5,13.5,14}\gO{4}{4.5,9,11,13}
\end{scope}

%%── measures 117-120 ─────────────────────────────────────────
\begin{scope}[rowat=29]
\tempo{4}{133}
\rg{odreg}{0}{3.3}\rg{pkreg}{3.3}{3.5}
\staff{4}{117}{360/173133/0.00\%,110/173573/0.00\%,96/173957/0.00\%,96/174341/0.00\%}
\rgedge{odedge}{0}{3.3}
\sO{0}{0}{0.35}\sO{1}{0}{0.35}\sN{0}{5.5}{16}\sN{1}{5.5}{16}
\gO{0}{0.5,1,1.5,2,2.5,3}\gO{1}{0.5,1.5,2.5}\gO{2}{1,2,3}
\gN{0}{3.5,5.5}\gN{1}{3.5,5.5}
\end{scope}

%%── measures 121-124 ─────────────────────────────────────────
\begin{scope}[rowat=30]
\staff{4}{121}{96/174725/0.00\%,96/175109/0.00\%,96/175493/0.00\%,96/175877/0.00\%}
\sN{0}{0}{16}\sN{1}{0}{16}
\end{scope}

%%── measures 125-127 ─────────────────────────────────────────
\begin{scope}[rowat=31]
\staff{3}{125}{96/176261/0.00\%,96/176645/0.00\%,0/176645/0.00\%}
\sN{0}{0}{8}\sN{1}{0}{8}
\end{scope}

\end{tikzpicture}
\end{document}
